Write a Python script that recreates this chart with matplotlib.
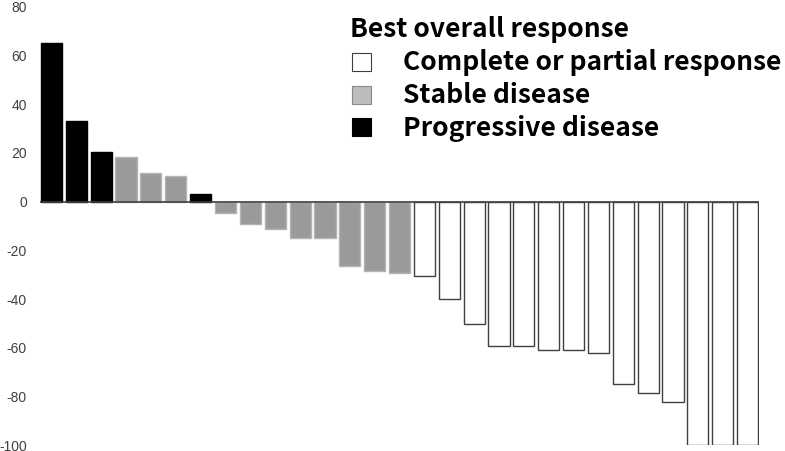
import matplotlib.pyplot as plt
import matplotlib.patches as mpatches
import numpy as np

# percent change from baseline, sorted, one bar per patient
change = [65.0, 33.2, 20.6, 18.4, 11.9, 10.7, 3.0,
          -4.8, -9.1, -11.2, -14.7, -15.0, -26.2, -28.4, -29.4,
          -30.5, -40.0, -50.3, -59.2, -59.2, -60.7, -60.8, -61.9,
          -74.9, -78.4, -82.2, -100.0, -100.0, -100.0]
response = ['PD', 'PD', 'PD', 'SD', 'SD', 'SD', 'PD',
            'SD', 'SD', 'SD', 'SD', 'SD', 'SD', 'SD', 'SD',
            'PR', 'PR', 'PR', 'PR', 'PR', 'PR', 'PR', 'PR',
            'PR', 'PR', 'PR', 'PR', 'PR', 'PR']
yticks = [-100, -80, -60, -40, -20, 0, 20, 40, 60, 80]

legend_title = 'Best overall response'
legend_labels = ['Complete or partial response', 'Stable disease', 'Progressive disease']

face = {'PR': 'white', 'SD': '#9a9a9a', 'PD': 'black'}
edge = {'PR': '#404040', 'SD': '#b4b4b4', 'PD': 'black'}

fig = plt.figure(figsize=(7.85, 4.51), dpi=100)
ax = fig.add_axes([0.051, 0.0122, 0.916, 0.9729])

x = np.arange(len(change))
ax.bar(x, change, width=0.85,
       color=[face[r] for r in response],
       edgecolor=[edge[r] for r in response],
       linewidth=1.0, zorder=2)
ax.axhline(0, color='#404040', linewidth=1.2, zorder=3)

ax.set_xlim(-0.46, len(change) - 1 + 0.46)
ax.set_ylim(-100, 80)
ax.set_yticks(yticks)
ax.set_yticklabels([str(t) for t in yticks], fontsize=10, color='#404040',
                   family='Liberation Sans')
ax.tick_params(axis='y', length=0, pad=9.4)
ax.set_xticks([])
for s in ax.spines.values():
    s.set_visible(False)

# legend drawn as text + squares
W, H = 785, 451
font = ['Noto Sans CJK JP', 'DejaVu Sans']
fs = 19
fig.text(350 / W, 1 - 36.7 / H, legend_title, fontsize=fs, fontweight='bold',
         family=font, va='baseline', ha='left')
rows = [(70, 'white', '#404040'), (103.3, '#bcbcbc', '#8a8a8a'), (135.5, 'black', 'black')]
for (base, fc, ec), lab in zip(rows, legend_labels):
    fig.text(403 / W, 1 - base / H, lab, fontsize=fs, fontweight='bold',
             family=font, va='baseline', ha='left')
    sq = mpatches.Rectangle((352 / W, 1 - (base + 0.5) / H), 19 / W, 18 / H,
                            transform=fig.transFigure, facecolor=fc,
                            edgecolor=ec, linewidth=0.8)
    fig.patches.append(sq)

fig.savefig('out.png', dpi=100)
